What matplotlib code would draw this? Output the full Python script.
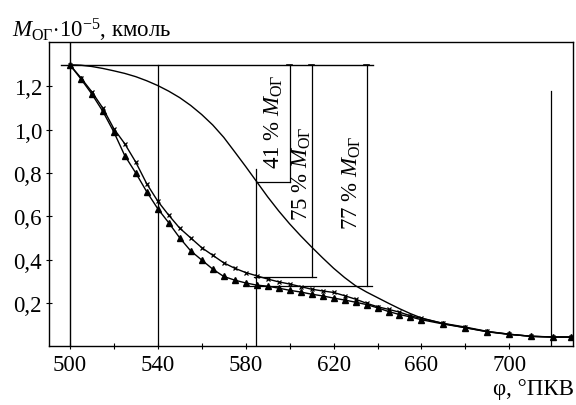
import numpy as np
import matplotlib
matplotlib.use("Agg")
import matplotlib.pyplot as plt

plt.rcParams['font.family'] = ['Liberation Serif', 'DejaVu Serif']
plt.rcParams['mathtext.fontset'] = 'custom'
plt.rcParams['mathtext.rm'] = 'Liberation Serif'
plt.rcParams['mathtext.it'] = 'Liberation Serif:italic'

# crank angle, deg
phi_x = [500, 505, 510, 515, 520, 525, 530, 535, 540, 545, 550, 555, 560, 565,
         570, 575, 580, 585, 590, 595, 600, 605, 610, 615, 620, 625, 630, 635,
         640, 645, 650, 655, 660, 670, 680, 690, 700, 710, 720, 728]
m_x = [1.30, 1.24, 1.175, 1.10, 1.005, 0.935, 0.85, 0.75, 0.67, 0.605, 0.545,
       0.50, 0.455, 0.42, 0.385, 0.36, 0.34, 0.325, 0.31, 0.297, 0.287, 0.275,
       0.263, 0.255, 0.248, 0.233, 0.217, 0.198, 0.182, 0.17, 0.157, 0.14,
       0.128, 0.105, 0.088, 0.068, 0.055, 0.045, 0.042, 0.042]

phi_tri = phi_x
m_tri = [1.30, 1.235, 1.165, 1.085, 0.99, 0.88, 0.80, 0.713, 0.635, 0.57, 0.50,
         0.44, 0.398, 0.356, 0.322, 0.305, 0.292, 0.282, 0.277, 0.268, 0.258,
         0.25, 0.24, 0.232, 0.222, 0.213, 0.203, 0.192, 0.177, 0.16, 0.146,
         0.135, 0.122, 0.102, 0.085, 0.066, 0.054, 0.046, 0.042, 0.042]

phi_up = [500, 505, 510, 515, 520, 525, 530, 535, 540, 545, 550, 555, 560,
          565, 570, 575, 580, 585, 590, 595, 600, 605, 610, 615, 620, 625,
          630, 635, 640, 645, 650, 655, 660, 670, 680, 690, 700, 710, 720, 728]
m_up = [1.30, 1.298, 1.292, 1.283, 1.272, 1.26, 1.245, 1.226, 1.204, 1.178,
        1.148, 1.112, 1.07, 1.022, 0.965, 0.898, 0.83, 0.76, 0.69, 0.625,
        0.565, 0.51, 0.458, 0.408, 0.36, 0.317, 0.279, 0.25, 0.224, 0.198,
        0.173, 0.15, 0.13, 0.104, 0.085, 0.067, 0.055, 0.045, 0.042, 0.042]

# dimension brackets: (phi, bottom value, label)
brackets = [(600, 0.76, '41 % $M_{\\mathrm{ОГ}}$'),
            (610, 0.32, '75 % $M_{\\mathrm{ОГ}}$'),
            (635, 0.278, '77 % $M_{\\mathrm{ОГ}}$')]
label_pos = [(593, 1.04), (605.5, 0.80), (628.5, 0.76)]

xticks = [500, 540, 580, 620, 660, 700]
yticks = [0.2, 0.4, 0.6, 0.8, 1.0, 1.2]
ytick_labels = ['0,2', '0,4', '0,6', '0,8', '1,0', '1,2']

fig = plt.figure(figsize=(5.76, 4.06), dpi=100)
ax = fig.add_axes([0.085, 0.145, 0.91, 0.749])
ax.set_xlim(490.5, 729)
ax.set_ylim(0, 1.405)

lc = 'black'
ax.plot(phi_up, m_up, color=lc, lw=1.0)
ax.plot(phi_x, m_x, color=lc, lw=1.0, marker='x', ms=3.5, mew=0.9)
ax.plot(phi_tri, m_tri, color=lc, lw=1.0, marker='^', ms=4)

# construction lines
ax.plot([496, 638], [1.3, 1.3], color=lc, lw=1.0)
ax.plot([500, 500], [0, 1.405], color=lc, lw=1.0)
ax.plot([540, 540], [0, 1.3], color=lc, lw=0.9)
ax.plot([584.5, 584.5], [0, 0.82], color=lc, lw=0.9)
ax.plot([719, 719], [0, 1.18], color=lc, lw=0.9)
ax.plot([584.5, 600], [0.76, 0.76], color=lc, lw=0.9)
ax.plot([584, 612], [0.32, 0.32], color=lc, lw=0.9)
ax.plot([582, 637.5], [0.278, 0.278], color=lc, lw=0.9)

for (p, lo, txt), (tx, ty) in zip(brackets, label_pos):
    ax.plot([p, p], [lo, 1.3], color=lc, lw=0.9)
    ax.plot([p - 1, p + 1], [1.3, 1.3], color=lc, lw=1.2)
    ax.text(tx, ty, txt, rotation=90, ha='center', va='center', fontsize=16.5)

ax.set_xticks(xticks)
ax.set_xticklabels([str(t) for t in xticks], fontsize=16.5)
ax.set_xticks([520, 560, 600, 640, 680], minor=True)
ax.set_yticks(yticks)
ax.set_yticklabels(ytick_labels, fontsize=16.5)
ax.tick_params(axis='both', which='both', direction='inout', length=4, width=0.8)
ax.tick_params(axis='x', pad=4)
ax.tick_params(axis='y', pad=3)
for s in ax.spines.values():
    s.set_linewidth(1.0)

fig.text(0.021, 0.925, '$M_{\\mathrm{ОГ}}$$\\cdot$10$^{-5}$, кмоль',
         fontsize=16.5, ha='left', va='center')
fig.text(0.997, 0.04, 'φ, °ПКВ', fontsize=16.5, ha='right', va='center')

fig.savefig('out.png', dpi=100)
